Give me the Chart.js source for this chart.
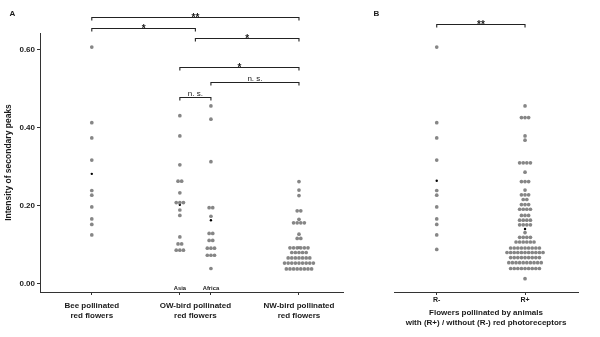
<!DOCTYPE html>
<html>
<head>
<meta charset="utf-8">
<script src="https://cdn.jsdelivr.net/npm/chart.js@4.4.1/dist/chart.umd.min.js"></script>
<style>
html, body { margin: 0; padding: 0; background: #ffffff; }
#wrap { position: relative; width: 600px; height: 337px; overflow: hidden; background: #ffffff; }
#ca { position: absolute; left: 0; top: 0; }
#cb { position: absolute; left: 360px; top: 0; }
</style>
</head>
<body>
<div id="wrap">
  <canvas id="ca" width="355" height="337" style="width:355px;height:337px"></canvas>
  <canvas id="cb" width="240" height="337" style="width:240px;height:337px"></canvas>
</div>
<script>
// ---------------- DATA ----------------
// Panel A groups: binned dot-plot levels and the number of dots in each bin
const beeLevels    = [0.607, 0.413, 0.374, 0.317, 0.239, 0.227, 0.197, 0.166, 0.152, 0.125];
const beeCounts    = [1, 1, 1, 1, 1, 1, 1, 1, 1, 1];
const asiaLevels   = [0.431, 0.379, 0.305, 0.263, 0.233, 0.208, 0.189, 0.175, 0.120, 0.102, 0.086];
const asiaCounts   = [1, 1, 1, 2, 1, 3, 1, 1, 1, 2, 3];
const africaLevels = [0.456, 0.422, 0.313, 0.195, 0.173, 0.129, 0.111, 0.091, 0.073, 0.039];
const africaCounts = [1, 1, 1, 2, 1, 2, 2, 3, 3, 1];
const nwLevels     = [0.262, 0.240, 0.226, 0.187, 0.165, 0.156, 0.127, 0.116, 0.092, 0.080, 0.066, 0.053, 0.038];
const nwCounts     = [1, 1, 1, 2, 1, 4, 1, 2, 6, 5, 7, 9, 8];

// Panel B groups
const rMinusLevels = [0.607, 0.413, 0.374, 0.317, 0.239, 0.227, 0.197, 0.166, 0.152, 0.125, 0.088];
const rMinusCounts = [1, 1, 1, 1, 1, 1, 1, 1, 1, 1, 1];
const rPlusLevels  = [0.456, 0.426, 0.379, 0.368, 0.310, 0.286, 0.262, 0.240, 0.228, 0.216, 0.203, 0.191,
                      0.175, 0.163, 0.151, 0.131, 0.119, 0.107, 0.0915, 0.080, 0.067, 0.054, 0.039, 0.013];
const rPlusCounts  = [1, 3, 1, 1, 4, 1, 3, 1, 3, 2, 3, 4, 3, 4, 4, 1, 4, 6, 9, 11, 9, 10, 9, 1];

// Categories (position on the category axis)
const categoriesA   = [['Bee pollinated', 'red flowers'], '', ['OW-bird pollinated', 'red flowers'], '', ['NW-bird pollinated', 'red flowers']];
const categoryPosA  = [1, 1.85, 2, 2.15, 3];
const subgroupNames = ['Asia', 'Africa'];
const subgroupPos   = [1.85, 2.15];
const categoriesB   = ['R-', 'R+'];
const categoryPosB  = [1, 2];

// Y axis ticks
const yTickValues = [0.00, 0.20, 0.40, 0.60];

// Significance brackets
const bracketFromA  = [1, 1, 2, 1.85, 2.15, 1.85];
const bracketToA    = [3, 2, 3, 3, 3, 2.15];
const bracketLevelA = [0.683, 0.656, 0.629, 0.555, 0.518, 0.480];
const bracketLabelA = ['**', '*', '*', '*', 'n. s.', 'n. s.'];
const bracketFromB  = [1];
const bracketToB    = [2];
const bracketLevelB = [0.666];
const bracketLabelB = ['**'];

// ---------------- helpers ----------------
const FONT = "'Liberation Sans', Arial, Helvetica, sans-serif";
const TEXT = '#1a1a1a';
const DOT = '#868686';
const Y_MIN = -0.0213, Y_MAX = 0.643;

function expand(levels, counts) {
  const out = [];
  levels.forEach((v, i) => { for (let k = 0; k < counts[i]; k++) out.push(v); });
  return out;
}
function mean(arr) { return arr.reduce((a, b) => a + b, 0) / arr.length; }
// dot-plot layout: dots of one bin are stacked side by side around the group centre
function swarm(center, levels, counts, step) {
  const pts = [];
  levels.forEach((v, i) => {
    const n = counts[i];
    for (let k = 0; k < n; k++) pts.push({ x: center + (k - (n - 1) / 2) * step, y: v });
  });
  return pts;
}

const stepA = 0.0348, stepB = 0.0408;
const dotsA = [
  ...swarm(categoryPosA[0], beeLevels, beeCounts, stepA),
  ...swarm(subgroupPos[0], asiaLevels, asiaCounts, stepA),
  ...swarm(subgroupPos[1], africaLevels, africaCounts, stepA),
  ...swarm(categoryPosA[4], nwLevels, nwCounts, stepA)
];
const meansA = [
  { x: categoryPosA[0], y: mean(expand(beeLevels, beeCounts)) },
  { x: subgroupPos[0], y: mean(expand(asiaLevels, asiaCounts)) },
  { x: subgroupPos[1], y: mean(expand(africaLevels, africaCounts)) },
  { x: categoryPosA[4], y: mean(expand(nwLevels, nwCounts)) }
];
const dotsB = [
  ...swarm(categoryPosB[0], rMinusLevels, rMinusCounts, stepB),
  ...swarm(categoryPosB[1], rPlusLevels, rPlusCounts, stepB)
];
const meansB = [
  { x: categoryPosB[0], y: mean(expand(rMinusLevels, rMinusCounts)) },
  { x: categoryPosB[1], y: mean(expand(rPlusLevels, rPlusCounts)) }
];

// annotation plugin: brackets, subgroup labels and panel letter
const annotPlugin = {
  id: 'annot',
  afterDraw(chart, args, opts) {
    const { ctx, scales: { x, y }, chartArea } = chart;
    ctx.save();
    ctx.strokeStyle = '#222';
    ctx.lineWidth = 1.1;
    ctx.fillStyle = TEXT;
    ctx.textAlign = 'center';
    (opts.from || []).forEach((f, i) => {
      const x1 = x.getPixelForValue(f), x2 = x.getPixelForValue(opts.to[i]);
      const yy = Math.round(y.getPixelForValue(opts.level[i])) + 0.5;
      ctx.beginPath();
      ctx.moveTo(x1, yy + 3); ctx.lineTo(x1, yy); ctx.lineTo(x2, yy); ctx.lineTo(x2, yy + 3);
      ctx.stroke();
      const lab = opts.label[i];
      if (lab.indexOf('*') >= 0) {
        ctx.font = 'bold 10px ' + FONT;
        ctx.textBaseline = 'alphabetic';
        ctx.fillText(lab, (x1 + x2) / 2, yy + 3.5);
      } else {
        ctx.font = '8px ' + FONT;
        ctx.textBaseline = 'alphabetic';
        ctx.fillText(lab, (x1 + x2) / 2, yy - 2);
      }
    });
    if (opts.subNames) {
      ctx.font = 'bold 5.8px ' + FONT;
      ctx.textBaseline = 'middle';
      opts.subNames.forEach((s, i) => {
        ctx.fillText(s, x.getPixelForValue(opts.subPos[i]), chartArea.bottom - 3.5);
      });
    }
    if (opts.letter) {
      ctx.font = 'bold 8px ' + FONT;
      ctx.textBaseline = 'middle';
      ctx.fillText(opts.letter, opts.letterX, 13.5);
    }
    ctx.restore();
  }
};

function yScale(visible) {
  return {
    type: 'linear', min: Y_MIN, max: Y_MAX, display: visible,
    afterBuildTicks: s => { s.ticks = yTickValues.map(v => ({ value: v })); },
    afterFit: s => { s.width = visible ? 40 : 0; },
    grid: { drawOnChartArea: false, drawTicks: true, tickLength: 3, tickColor: '#333', tickWidth: 1 },
    border: { display: true, color: '#333', width: 1 },
    ticks: { callback: v => Number(v).toFixed(2), font: { family: FONT, size: 8, weight: 'bold' }, color: TEXT, padding: 2 },
    title: { display: true, text: 'Intensity of secondary peaks', font: { family: FONT, size: 8.5, weight: 'bold' }, color: TEXT, padding: { top: 4, bottom: 0 } }
  };
}

const dotStyle = { pointRadius: 1.85, pointBackgroundColor: DOT, pointBorderWidth: 0, pointHoverRadius: 1.85 };
const meanStyle = { pointRadius: 1.2, pointBackgroundColor: '#000', pointBorderWidth: 0, pointHoverRadius: 1.2 };

// ---------------- Panel A ----------------
new Chart(document.getElementById('ca'), {
  type: 'scatter',
  data: { datasets: [
    Object.assign({ label: 'values', data: dotsA }, dotStyle),
    Object.assign({ label: 'mean', data: meansA }, meanStyle)
  ] },
  options: {
    responsive: false, animation: false, devicePixelRatio: 1,
    layout: { padding: { left: 0, right: 12, top: 33, bottom: 0 } },
    plugins: {
      legend: { display: false }, tooltip: { enabled: false },
      annot: { from: bracketFromA, to: bracketToA, level: bracketLevelA, label: bracketLabelA,
               subNames: subgroupNames, subPos: subgroupPos, letter: 'A', letterX: 12.5 }
    },
    scales: {
      x: {
        type: 'linear', min: 0.5, max: 3.425,
        afterBuildTicks: s => { s.ticks = categoryPosA.map(v => ({ value: v })); },
        afterFit: s => { s.height = 45; },
        grid: { drawOnChartArea: false, drawTicks: true, tickLength: 3, tickWidth: 1,
                tickColor: c => (c.tick && c.tick.value === 2) ? 'rgba(0,0,0,0)' : '#333' },
        border: { display: true, color: '#333', width: 1 },
        ticks: { autoSkip: false, maxRotation: 0, padding: 5.7, color: TEXT,
                 font: { family: FONT, size: 8, weight: 'bold', lineHeight: 1.25 },
                 callback: (v, i) => categoriesA[i] }
      },
      y: yScale(true)
    }
  },
  plugins: [annotPlugin]
});

// ---------------- Panel B ----------------
new Chart(document.getElementById('cb'), {
  type: 'scatter',
  data: { datasets: [
    Object.assign({ label: 'values', data: dotsB }, dotStyle),
    Object.assign({ label: 'mean', data: meansB }, meanStyle)
  ] },
  options: {
    responsive: false, animation: false, devicePixelRatio: 1,
    layout: { padding: { left: 34, right: 22, top: 33, bottom: 0 } },
    plugins: {
      legend: { display: false }, tooltip: { enabled: false },
      annot: { from: bracketFromB, to: bracketToB, level: bracketLevelB, label: bracketLabelB,
               letter: 'B', letterX: 16.5 }
    },
    scales: {
      x: {
        type: 'linear', min: 0.516, max: 2.6,
        afterBuildTicks: s => { s.ticks = categoryPosB.map(v => ({ value: v })); },
        afterFit: s => { s.height = 45; },
        grid: { drawOnChartArea: false, drawTicks: true, tickLength: 3, tickWidth: 1, tickColor: '#333' },
        border: { display: true, color: '#333', width: 1 },
        ticks: { autoSkip: false, maxRotation: 0, padding: 1, color: TEXT,
                 font: { family: FONT, size: 7, weight: 'bold', lineHeight: 1.2 },
                 callback: (v, i) => categoriesB[i] },
        title: { display: true, color: TEXT,
                 text: ['Flowers pollinated by animals', 'with (R+) / without (R-) red photoreceptors'],
                 font: { family: FONT, size: 8, weight: 'bold', lineHeight: 1.25 },
                 padding: { top: 0, bottom: 9.3 } }
      },
      y: yScale(false)
    }
  },
  plugins: [annotPlugin]
});
</script>
</body>
</html>
